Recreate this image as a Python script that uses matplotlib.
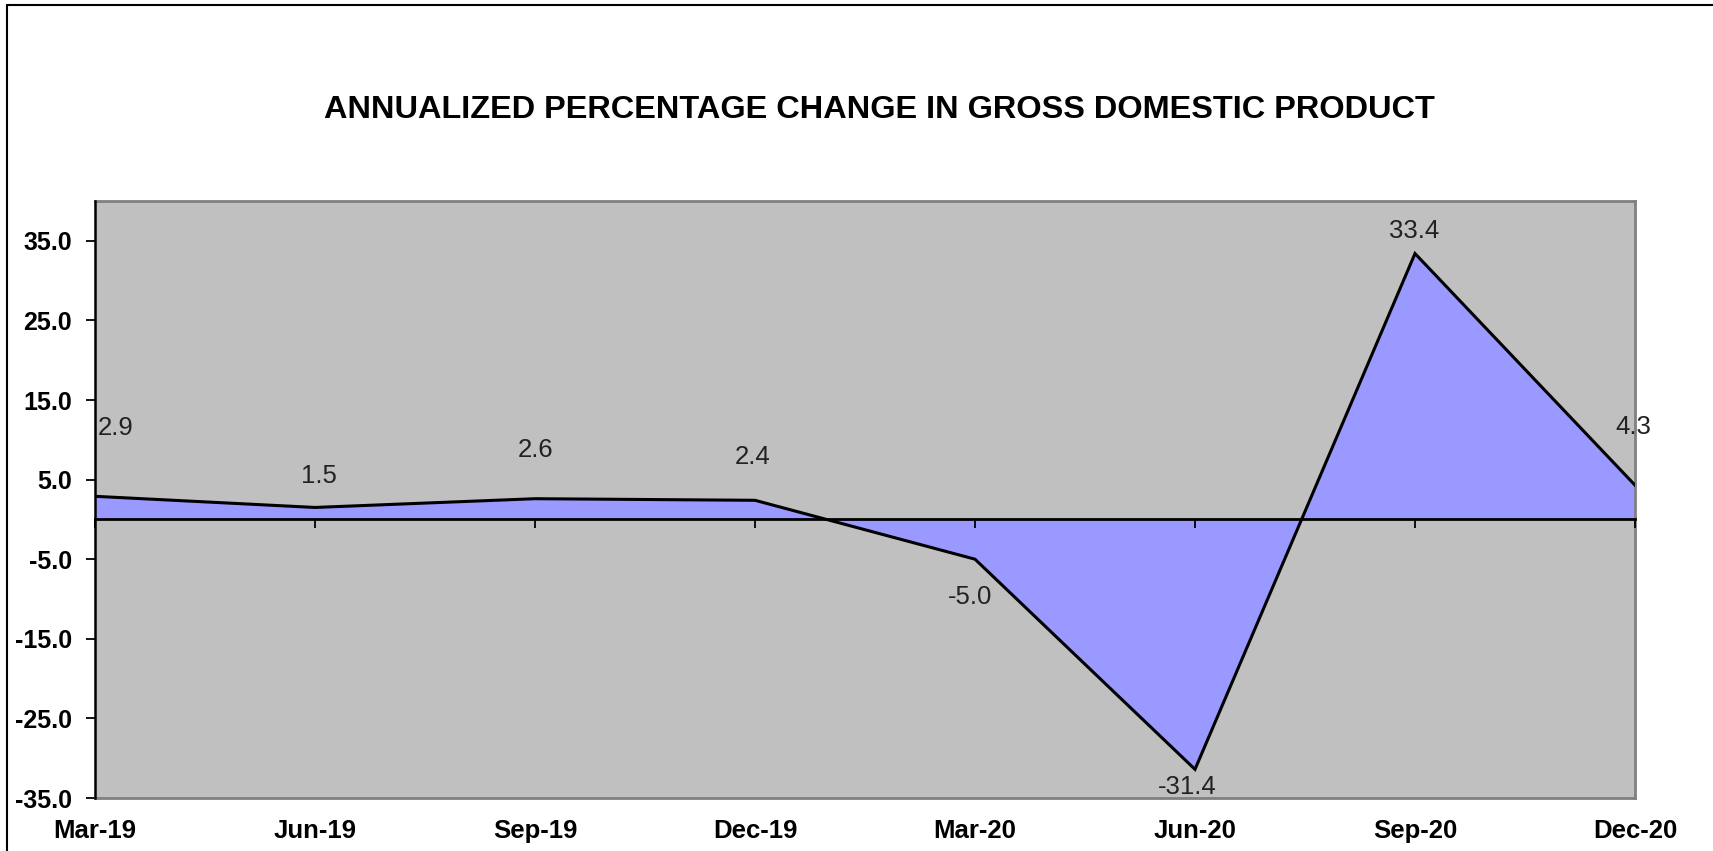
import matplotlib
matplotlib.use("Agg")
import matplotlib.pyplot as plt
from matplotlib.patches import Rectangle

quarters = ["Mar-19", "Jun-19", "Sep-19", "Dec-19", "Mar-20", "Jun-20", "Sep-20", "Dec-20"]
gdp_change = [2.9, 1.5, 2.6, 2.4, -5.0, -31.4, 33.4, 4.3]
y_ticks = [35, 25, 15, 5, -5, -15, -25, -35]
title = "ANNUALIZED PERCENTAGE CHANGE IN GROSS DOMESTIC PRODUCT"

# label offsets in pixels (dx, dy) relative to each point
label_offsets_px = [(21, 68), (4, 31), (1, 49), (-2, 43), (-5, -38), (-8, -18), (-1, 23), (-2, 58)]

plt.rcParams['font.family'] = ['Liberation Sans', 'DejaVu Sans']
DPI = 100
fig = plt.figure(figsize=(17.13, 8.51), dpi=DPI)
fig.patch.set_facecolor('white')

L, R, T, B = 95, 1635, 201, 798
W, H = 1713, 851
ax = fig.add_axes([L / W, 1 - B / H, (R - L) / W, (B - T) / H])
ax.set_facecolor('#C0C0C0')

x = list(range(len(quarters)))
ymin, ymax = -35, 40
ax.fill_between(x, gdp_change, 0, color='#9999FF', zorder=2, linewidth=0)
ax.plot(x, gdp_change, color='black', lw=2.2, zorder=3, solid_joinstyle='miter')
ax.set_xlim(0, len(quarters) - 1)
ax.set_ylim(ymin, ymax)

for s in ['top', 'right', 'bottom']:
    ax.spines[s].set_color('#808080')
    ax.spines[s].set_linewidth(2)
ax.spines['left'].set_color('black')
ax.spines['left'].set_linewidth(1.8)
ax.spines['left'].set_zorder(5)

ax.set_yticks(y_ticks)
ax.set_yticklabels([f"{v:.1f}" for v in y_ticks], fontsize=18, fontweight='bold')
ax.tick_params(axis='y', direction='out', length=6.5, width=1.3, pad=10, color='black')

ax.set_xticks(x)
ax.set_xticklabels(quarters, fontsize=18.5, fontweight='bold')
ax.tick_params(axis='x', length=0, pad=15)

# zero axis line with tick marks
zero_loc = (0 - ymin) / (ymax - ymin)
sec = ax.secondary_xaxis(zero_loc)
sec.set_xticks(x)
sec.set_xticklabels([''] * len(x))
sec.tick_params(axis='x', direction='out', length=6.5, width=1.3, color='black')
sec.spines['bottom'].set_color('black')
sec.spines['bottom'].set_linewidth(2)
sec.spines['bottom'].set_zorder(4)
sec.set_zorder(4)

px2pt = 72 / DPI
for xi, v, (dx, dy) in zip(x, gdp_change, label_offsets_px):
    ax.annotate(f"{v:.1f}", (xi, v), xytext=(dx * px2pt, dy * px2pt), textcoords='offset points',
                ha='center', va='center', fontsize=18.5, color='#222222', zorder=6,
                annotation_clip=False)

fig.text(879 / W, 1 - 110 / H, title, ha='center', va='center', fontsize=23.4, fontweight='bold')

# outer chart border (left and top visible)
fig.add_artist(Rectangle((7 / W, -0.1), 1.2, 1 - 5 / H + 0.1, transform=fig.transFigure,
                         fill=False, edgecolor='black', lw=1.5))

fig.savefig('out.png', dpi=DPI)
